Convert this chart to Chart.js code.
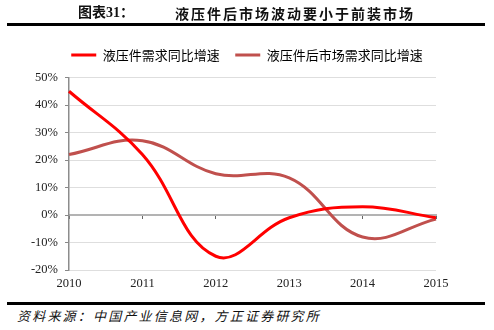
<!DOCTYPE html>
<html>
<head>
<meta charset="utf-8">
<script src="https://cdn.jsdelivr.net/npm/chart.js@4/dist/chart.umd.min.js"></script>
<style>
  html, body { margin: 0; padding: 0; background: #fff; }
  #wrap { position: relative; width: 494px; height: 330px; overflow: hidden; background: #fff; }
  #chart { position: absolute; left: 0; top: 0; }
  .t1 { position: absolute; left: 78px; top: 3px; font: bold 14px "Liberation Serif", "Noto Sans CJK SC"; color: #111; line-height: 20px; white-space: nowrap; }
  .t2 { position: absolute; left: 175px; top: 3px; font: bold 14px "Noto Sans CJK SC"; letter-spacing: 2px; color: #111; line-height: 20px; white-space: nowrap; }
  .rule { position: absolute; left: 7px; width: 478px; height: 3px; background: #000; }
  .src { position: absolute; left: 17px; top: 307px; font: italic 13px "Noto Sans CJK SC"; letter-spacing: 2.2px; color: #111; line-height: 18px; white-space: nowrap; }
</style>
</head>
<body>
<div id="wrap">
  <canvas id="chart" width="494" height="300"></canvas>
  <div class="t1">图表31：</div>
  <div class="t2">液压件后市场波动要小于前装市场</div>
  <div class="rule" style="top:23px"></div>
  <div class="rule" style="top:302px"></div>
  <div class="src">资料来源：中国产业信息网，方正证券研究所</div>
</div>
<script>
const years = ['2010', '2011', '2012', '2013', '2014', '2015'];
const hydraulicDemand = [45, 22, -15, -1, 3, -1];
const aftermarketDemand = [22, 27, 15, 13.5, -8, -1.5];
const seriesNames = ['液压件需求同比增速', '液压件后市场需求同比增速'];
const yTicks = [-20, -10, 0, 10, 20, 30, 40, 50];

const serif = '"Liberation Serif", "Times New Roman", serif';

new Chart(document.getElementById('chart'), {
  type: 'line',
  data: {
    labels: years,
    datasets: [
      { label: seriesNames[0], data: hydraulicDemand, borderColor: '#FF0000', backgroundColor: '#FF0000', borderWidth: 3, pointRadius: 0, tension: 0.4, fill: false },
      { label: seriesNames[1], data: aftermarketDemand, borderColor: '#C0504D', backgroundColor: '#C0504D', borderWidth: 3, pointRadius: 0, tension: 0.4, fill: false }
    ]
  },
  options: {
    responsive: false,
    animation: false,
    layout: { padding: { top: 33, left: 0, right: 0, bottom: 0 } },
    plugins: {
      tooltip: { enabled: false },
      legend: {
        position: 'top',
        labels: {
          usePointStyle: true,
          pointStyle: 'line',
          pointStyleWidth: 25,
          padding: 15.5,
          color: '#000',
          font: { family: '"Noto Sans CJK SC"', size: 13, lineHeight: 1 }
        }
      }
    },
    scales: {
      x: {
        type: 'category',
        position: 'bottom',
        offset: false,
        grid: { display: false, drawTicks: false },
        border: { display: false },
        ticks: { color: '#222', padding: 6, maxRotation: 0, autoSkip: false, font: { family: serif, size: 12.5 } },
        afterFit: s => { s.height = 30; }
      },
      xTop: {
        type: 'category',
        position: 'top',
        display: true,
        grid: { display: false, drawTicks: false },
        border: { display: false },
        ticks: { display: false },
        afterFit: s => { s.height = 6; }
      },
      x0: {
        type: 'category',
        position: { y: 0 },
        offset: false,
        grid: { display: true, drawOnChartArea: false, drawTicks: true, tickLength: 3, tickColor: '#666', tickWidth: 1 },
        border: { display: true, color: '#b3b3b3', width: 2 },
        ticks: { display: false }
      },
      y: {
        min: -20,
        max: 50,
        afterBuildTicks: s => { s.ticks = yTicks.map(v => ({ value: v })); },
        grid: { color: '#dedede', lineWidth: 1, drawTicks: true, tickLength: 4, tickColor: '#888' },
        border: { display: true, color: '#8c8c8c', width: 1.5 },
        ticks: { color: '#222', padding: 7, font: { family: serif, size: 12.5 }, callback: v => v + '%' },
        afterFit: s => { s.width = 69; }
      },
      yRight: {
        position: 'right',
        display: true,
        grid: { display: false, drawTicks: false },
        border: { display: false },
        ticks: { display: false },
        afterFit: s => { s.width = 58; }
      }
    }
  }
});
</script>
</body>
</html>
